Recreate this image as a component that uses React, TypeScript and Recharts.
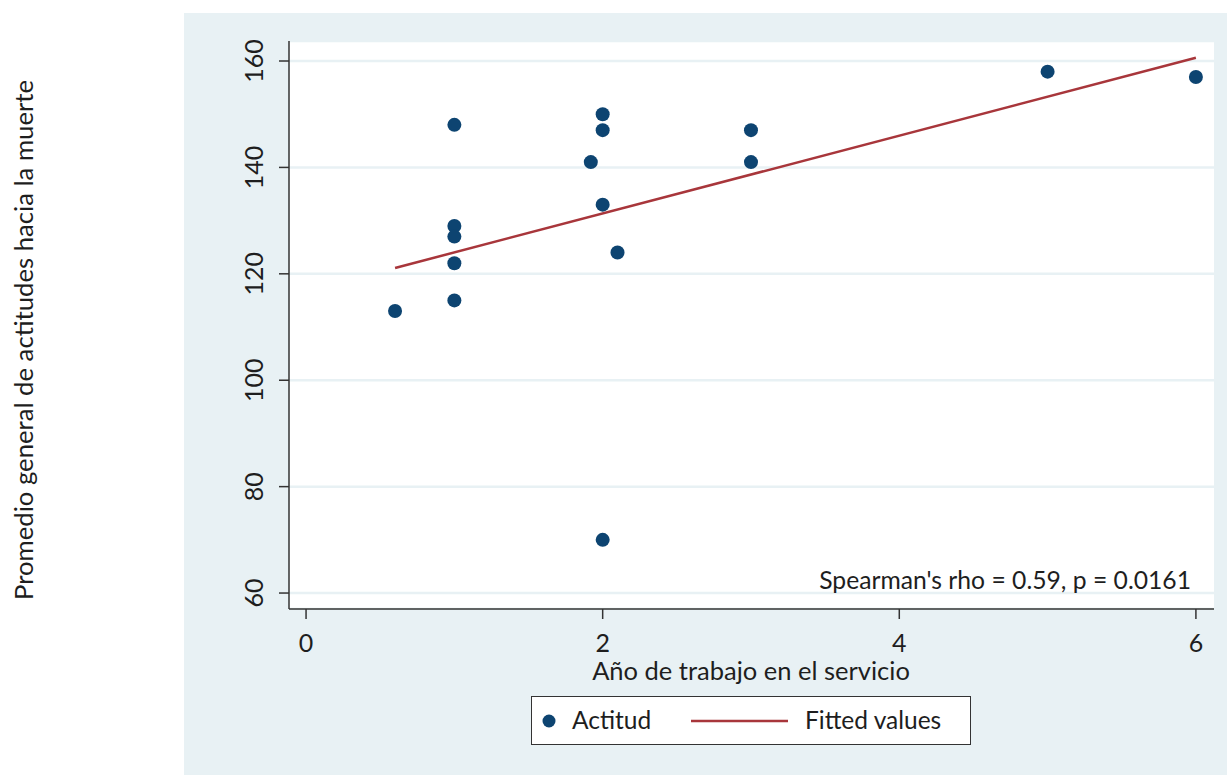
import React from "react";
import {
  CartesianGrid,
  Scatter,
  ScatterChart,
  XAxis,
  YAxis,
} from "recharts";

// #region Sample data
const years = [0.6, 1, 1, 1, 1, 1, 1.92, 2, 2, 2, 2, 2.1, 3, 3, 5, 6];
const actitud = [113, 148, 129, 127, 122, 115, 141, 150, 147, 133, 70, 124, 147, 141, 158, 157];
const fittedYears = [0.6, 6];
const fittedValues = [121.1, 160.6];
const xTicks = [0, 2, 4, 6];
const yTicks = [60, 80, 100, 120, 140, 160];
// #endregion

const points = years.map((x, i) => ({ x, y: actitud[i] }));
const fitted = fittedYears.map((x, i) => ({ x, y: fittedValues[i] }));

const FONT = "Lato, 'Noto Sans', sans-serif";
const TEXT = "#1e1e1e";
const AXIS = "#333";
const NAVY = "#0d4471";
const MAROON = "#a8363b";
const BG = "#e8f1f4";

const Dot = (props: any) => {
  const { cx, cy } = props;
  if (cx == null || cy == null) return null;
  return <circle cx={cx} cy={cy} r={7} fill={NAVY} />;
};

const YTick = ({ x, y, payload }: any) => {
  const bx = x - 14;
  return (
    <text
      x={bx}
      y={y}
      transform={`rotate(-90, ${bx}, ${y})`}
      textAnchor="middle"
      fill={TEXT}
      fontSize={25}
      fontFamily={FONT}
    >
      {payload.value}
    </text>
  );
};

const XTick = ({ x, y, payload }: any) => (
  <text x={x} y={y + 31} textAnchor="middle" fill={TEXT} fontSize={25} fontFamily={FONT}>
    {payload.value}
  </text>
);

export default function App() {
  return (
    <div style={{ position: "absolute", left: 0, top: 0, width: 1227, height: 775, background: "#fff", fontFamily: FONT }}>
      <div style={{ position: "absolute", left: 184, top: 13, width: 1043, height: 762, background: BG }} />
      <div style={{ position: "absolute", left: 0, top: 0 }}>
        <ScatterChart width={1227} height={775} margin={{ top: 41, right: 13, bottom: 0, left: 0 }}>
          <CartesianGrid vertical={false} fill="#ffffff" stroke={BG} strokeWidth={2.5} />
          <XAxis
            type="number"
            dataKey="x"
            domain={[-0.115, 6.122]}
            allowDataOverflow
            ticks={xTicks}
            tickSize={10}
            tick={<XTick />}
            height={166}
            stroke={AXIS}
            strokeWidth={1.5}
          />
          <YAxis
            type="number"
            dataKey="y"
            domain={[57.0, 163.76]}
            allowDataOverflow
            ticks={yTicks}
            tickSize={10}
            tick={<YTick />}
            width={289}
            stroke={AXIS}
            strokeWidth={1.5}
          />
          <Scatter
            name="Fitted values"
            data={fitted}
            line={{ stroke: MAROON, strokeWidth: 2.5 }}
            shape={() => null}
            isAnimationActive={false}
          />
          <Scatter name="Actitud" data={points} shape={<Dot />} isAnimationActive={false} />
        </ScatterChart>
      </div>

      {/* axis titles and annotation */}
      <div style={{ position: "absolute", left: 289, width: 924, top: 655, textAlign: "center", fontSize: 25.5, color: TEXT, lineHeight: "30px" }}>
        Año de trabajo en el servicio
      </div>
      <div
        style={{
          position: "absolute",
          left: 23,
          top: 340,
          transform: "translate(-50%, -50%) rotate(-90deg)",
          whiteSpace: "nowrap",
          fontSize: 25.7,
          color: TEXT,
          lineHeight: "30px",
        }}
      >
        Promedio general de actitudes hacia la muerte
      </div>
      <div style={{ position: "absolute", right: 1227 - 1191, top: 565, fontSize: 24.7, color: TEXT, lineHeight: "30px", whiteSpace: "nowrap" }}>
        Spearman's rho = 0.59, p = 0.0161
      </div>

      {/* legend */}
      <div
        style={{
          position: "absolute",
          left: 531,
          top: 696,
          width: 438,
          height: 47,
          background: "#fff",
          border: `1px solid ${AXIS}`,
          fontSize: 24.5,
          color: TEXT,
        }}
      >
        <svg width={438} height={47} style={{ position: "absolute", left: 0, top: 0 }}>
          <circle cx={17} cy={24} r={6.5} fill={NAVY} />
          <line x1={159} x2={256} y1={24} y2={24} stroke={MAROON} strokeWidth={2.5} />
        </svg>
        <span style={{ position: "absolute", left: 40, top: 8, lineHeight: "30px" }}>Actitud</span>
        <span style={{ position: "absolute", left: 273, top: 8, lineHeight: "30px" }}>Fitted values</span>
      </div>
    </div>
  );
}
